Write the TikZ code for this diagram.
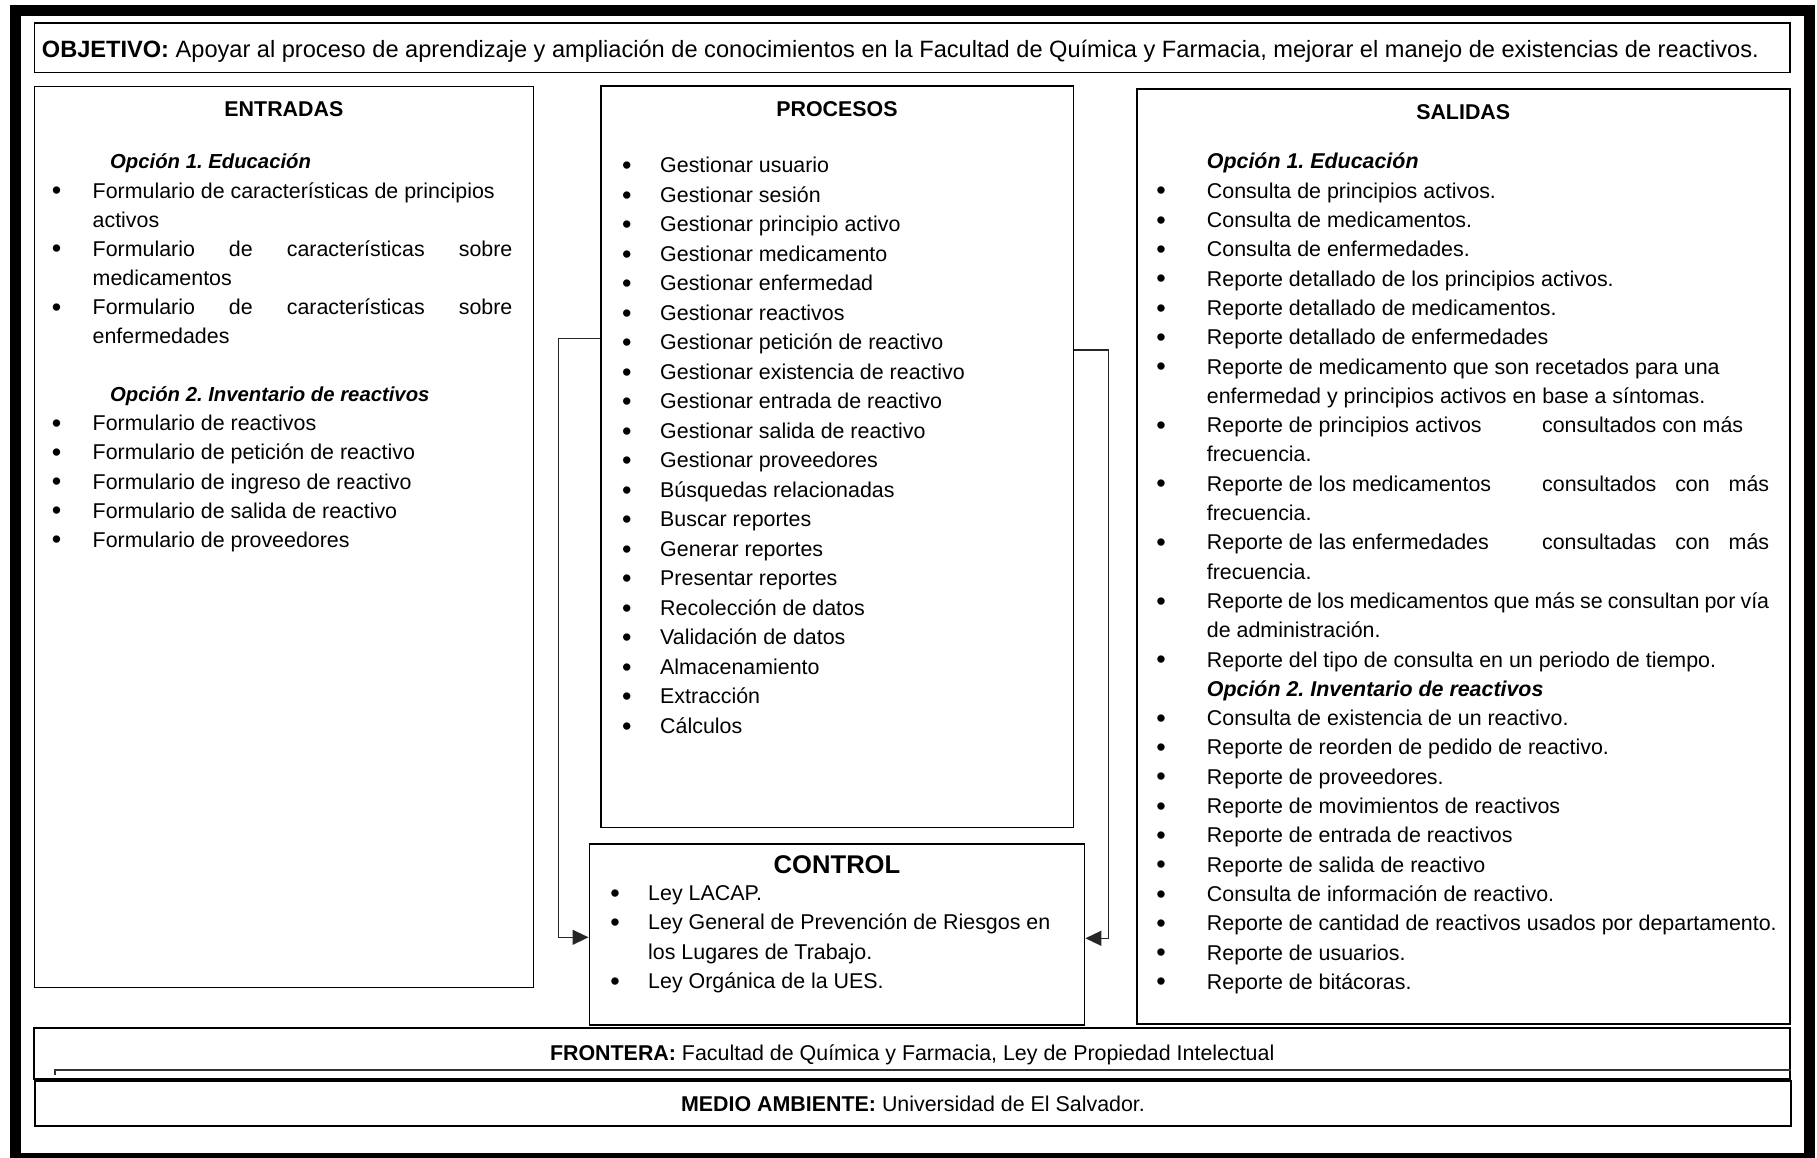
\documentclass[tikz,border=0pt]{standalone}
\usepackage{fontspec}
\setmainfont{Liberation Sans}
\usetikzlibrary{arrows.meta}
\frenchspacing

% list helpers: \bw = bullet column, \tw = text column
\newlength\bw
\newlength\tw
\newlength\tabw
\newlength\restw
\newcommand\bdot{\raisebox{-1.6pt}{\fontsize{27}{27}\selectfont\textbullet}}
\newcommand\bitem[1]{\makebox[\bw][l]{\bdot}#1\par}
\newcommand\bjust[1]{\makebox[\bw][l]{\bdot}\makebox[\tw][s]{#1}\par}
\newcommand\btab[2]{\makebox[\bw][l]{\bdot}\makebox[\tabw][l]{#1}#2\par}
\newcommand\btabjust[2]{\makebox[\bw][l]{\bdot}\makebox[\tabw][l]{#1}\makebox[\restw][s]{#2}\par}
\newcommand\cont[1]{\hspace*{\bw}#1\par}
\newcommand\opt[2]{\hspace*{#1}\textbf{\textit{#2}}\par}
\newcommand\optsm[2]{\hspace*{#1}{\fontsize{20.3}{29.1}\selectfont\textbf{\textit{#2}}}\par}
\newcommand\gap{\mbox{}\par}

\begin{document}
\begin{tikzpicture}[x=1pt,y=-1pt,
  box/.style={draw=black,line width=1.6pt,inner sep=0pt},
  txt/.style={inner sep=0pt,font=\fontsize{21.4}{29.3}\selectfont},
  head/.style={txt,anchor=base,font=\fontsize{21.4}{29.3}\selectfont\bfseries},
  conn/.style={draw=black!85,line width=1.3pt,-{Triangle[length=16pt,width=15pt]}}]

\useasboundingbox (0,0) rectangle (1817,1158);
\clip (0,0) rectangle (1817,1158);

% outer frame
\draw[line width=11pt] (15,10.5) rectangle (1809.7,1158.5);

% boxes
\node[box,minimum width=1755.7pt,minimum height=49.4pt] (objetivo) at (912.2,48) {};
\node[box,minimum width=499.2pt,minimum height=900.6pt] (entradas) at (283.9,537) {};
\node[box,minimum width=472.6pt,minimum height=741.5pt] (procesos) at (837,456.55) {};
\node[box,line width=2.2pt,minimum width=653pt,minimum height=934.5pt] (salidas) at (1463.2,556.45) {};
\node[box,minimum width=495.3pt,minimum height=181pt] (control) at (836.95,934.5) {};
\node[box,line width=1.8pt,minimum width=1755.7pt,minimum height=51pt] (frontera) at (912.2,1053.5) {};
\node[box,line width=1.8pt,minimum width=1756pt,minimum height=45pt] (medio) at (913,1103.5) {};

% inner rule of the frontera band
\coordinate (fl) at (55,1074.5);
\coordinate (fr) at (frontera.east |- 0,1070);
\draw[line width=1.3pt,draw=black!80] (fl) |- (fr);

% texts
\node[txt,anchor=base west,font=\fontsize{23.6}{29.3}\selectfont] (tobj) at (41.7,58)
  {\textbf{OBJETIVO:} Apoyar al proceso de aprendizaje y ampliación de conocimientos en la Facultad de Química y Farmacia, mejorar el manejo de existencias de reactivos.};

\node[head] (tent) at (283.9,117) {ENTRADAS};
\node[head] (tpro) at (837,117) {PROCESOS};
\node[head] (tsal) at (1463.2,119.5) {SALIDAS};
\node[head,font=\fontsize{25.6}{30}\selectfont\bfseries] (tcon) at (837,873.3) {CONTROL};

\node[txt,anchor=base west] (lent) at (51.7,169) {%
  \setlength\bw{40.8pt}\setlength\tw{419.7pt}%
  \begin{minipage}[t]{470pt}\fontsize{21.4}{29.1}\selectfont
  \optsm{58.3pt}{Opción 1. Educación}
  \bitem{Formulario de características de principios}
  \cont{activos}
  \bjust{Formulario de características sobre}
  \cont{medicamentos}
  \bjust{Formulario de características sobre}
  \cont{enfermedades}
  \gap
  \optsm{58.3pt}{Opción 2. Inventario de reactivos}
  \bitem{Formulario de reactivos}
  \bitem{Formulario de petición de reactivo}
  \bitem{Formulario de ingreso de reactivo}
  \bitem{Formulario de salida de reactivo}
  \bitem{Formulario de proveedores}
  \end{minipage}};

\node[txt,anchor=base west] (lpro) at (622,173) {%
  \setlength\bw{38pt}%
  \begin{minipage}[t]{440pt}\fontsize{21.4}{29.5}\selectfont
  \bitem{Gestionar usuario}
  \bitem{Gestionar sesión}
  \bitem{Gestionar principio activo}
  \bitem{Gestionar medicamento}
  \bitem{Gestionar enfermedad}
  \bitem{Gestionar reactivos}
  \bitem{Gestionar petición de reactivo}
  \bitem{Gestionar existencia de reactivo}
  \bitem{Gestionar entrada de reactivo}
  \bitem{Gestionar salida de reactivo}
  \bitem{Gestionar proveedores}
  \bitem{Búsquedas relacionadas}
  \bitem{Buscar reportes}
  \bitem{Generar reportes}
  \bitem{Presentar reportes}
  \bitem{Recolección de datos}
  \bitem{Validación de datos}
  \bitem{Almacenamiento}
  \bitem{Extracción}
  \bitem{Cálculos}
  \end{minipage}};

\node[txt,anchor=base west] (lsal) at (1156.25,169) {%
  \setlength\bw{50.45pt}\setlength\tw{562.3pt}%
  \setlength\tabw{335.3pt}\setlength\restw{227pt}%
  \begin{minipage}[t]{625pt}\fontsize{21.4}{29.3}\selectfont
  \opt{\bw}{Opción 1. Educación}
  \bitem{Consulta de principios activos.}
  \bitem{Consulta de medicamentos.}
  \bitem{Consulta de enfermedades.}
  \bitem{Reporte detallado de los principios activos.}
  \bitem{Reporte detallado de medicamentos.}
  \bitem{Reporte detallado de enfermedades}
  \bitem{Reporte de medicamento que son recetados para una}
  \cont{enfermedad y principios activos en base a síntomas.}
  \btab{Reporte de principios activos}{consultados con más}
  \cont{frecuencia.}
  \btabjust{Reporte de los medicamentos}{consultados con más}
  \cont{frecuencia.}
  \btabjust{Reporte de las enfermedades}{consultadas con más}
  \cont{frecuencia.}
  \bjust{Reporte de los medicamentos que más se consultan por vía}
  \cont{de administración.}
  \bitem{Reporte del tipo de consulta en un periodo de tiempo.}
  \opt{\bw}{Opción 2. Inventario de reactivos}
  \bitem{Consulta de existencia de un reactivo.}
  \bitem{Reporte de reorden de pedido de reactivo.}
  \bitem{Reporte de proveedores.}
  \bitem{Reporte de movimientos de reactivos}
  \bitem{Reporte de entrada de reactivos}
  \bitem{Reporte de salida de reactivo}
  \bitem{Consulta de información de reactivo.}
  \bitem{Reporte de cantidad de reactivos usados por departamento.}
  \bitem{Reporte de usuarios.}
  \bitem{Reporte de bitácoras.}
  \end{minipage}};

\node[txt,anchor=base west] (lcon) at (610.25,900.5) {%
  \setlength\bw{37.75pt}%
  \begin{minipage}[t]{460pt}\fontsize{21.4}{29.3}\selectfont
  \bitem{Ley LACAP.}
  \bitem{Ley General de Prevención de Riesgos en}
  \cont{los Lugares de Trabajo.}
  \bitem{Ley Orgánica de la UES.}
  \end{minipage}};

\node[txt,anchor=base] (tfro) at (912.2,1060)
  {\textbf{FRONTERA:} Facultad de Química y Farmacia, Ley de Propiedad Intelectual};
\node[txt,anchor=base] (tmed) at (913,1111)
  {\textbf{MEDIO AMBIENTE:} Universidad de El Salvador.};

% feedback connectors from PROCESOS into CONTROL
\coordinate (lp) at (procesos.west |- 0,338.3);
\coordinate (lc) at (control.west |- 0,937.3);
\draw[conn] (lp) -- ++(-41.4,0) |- (lc);
\coordinate (rp) at (procesos.east |- 0,350);
\coordinate (rc) at (control.east |- 0,938.3);
\draw[conn] (rp) -- ++(34.4,0) |- (rc);

\end{tikzpicture}
\end{document}
